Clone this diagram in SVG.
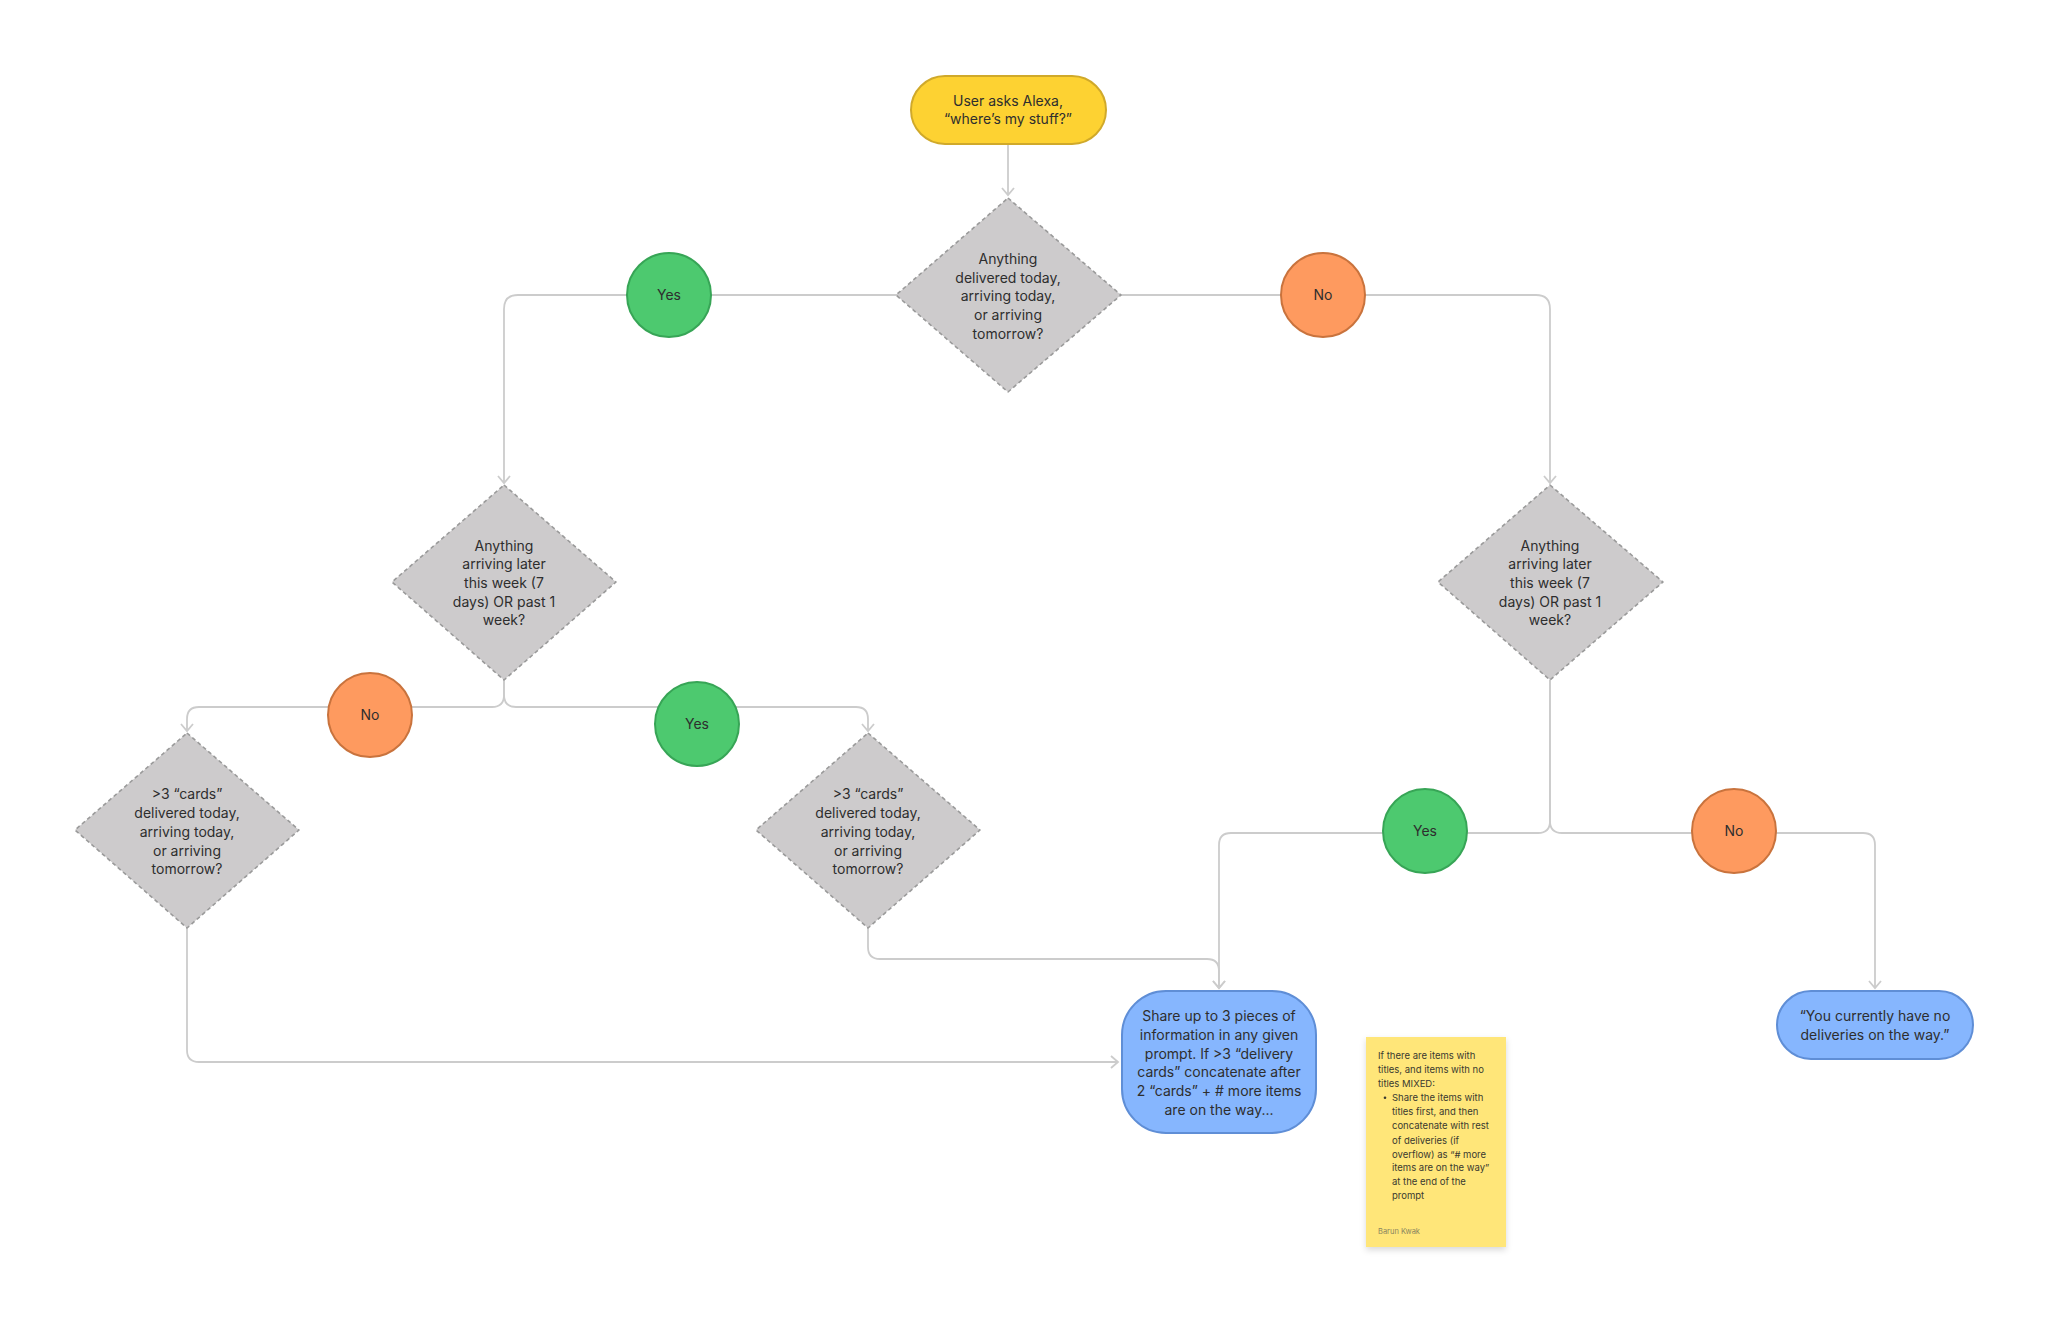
<svg xmlns="http://www.w3.org/2000/svg" width="2048" height="1332" viewBox="0 0 2048 1332">
<defs>
<style>
.t{font-family:Inter,"Noto Sans","Liberation Sans",sans-serif;font-size:14px;fill:#2e2e2e;text-anchor:middle}
.c{fill:none;stroke:#cccccc;stroke-width:1.8}
.dia{fill:#cdcbcc;stroke:#9a9a9a;stroke-width:1.6;stroke-dasharray:4 3;stroke-linejoin:round}
.yes{fill:#4dc96f;stroke:#37a556;stroke-width:2}
.no{fill:#fe9a5f;stroke:#c9733d;stroke-width:2}
.blue{fill:#86b6fe;stroke:#5f8ed6;stroke-width:2}
.st{font-family:Inter,"Noto Sans","Liberation Sans",sans-serif;font-size:9.5px;fill:#3a3a30}
</style>
<marker id="ar" markerWidth="16" markerHeight="16" refX="0" refY="0" viewBox="-10 -8 12 16" orient="auto" markerUnits="userSpaceOnUse">
<path d="M-7,-6 L0,0 L-7,6" fill="none" stroke="#cccccc" stroke-width="1.8"/>
</marker>
<filter id="sh" x="-20%" y="-20%" width="140%" height="140%">
<feDropShadow dx="0" dy="3" stdDeviation="3" flood-color="#000" flood-opacity="0.15"/>
</filter>
</defs>
<rect width="2048" height="1332" fill="#ffffff"/>

<g id="connectors">
<path class="c" d="M1008,145 V195" marker-end="url(#ar)"/>
<path class="c" d="M897,295 H518 Q504,295 504,309 V483" marker-end="url(#ar)"/>
<path class="c" d="M1121,295 H1536 Q1550,295 1550,309 V483" marker-end="url(#ar)"/>
<path class="c" d="M504,680 V695 Q504,707 492,707 H199 Q187,707 187,719 V731" marker-end="url(#ar)"/>
<path class="c" d="M504,680 V695 Q504,707 516,707 H856 Q868,707 868,719 V731" marker-end="url(#ar)"/>
<path class="c" d="M1550,680 V821 Q1550,833 1538,833 H1231 Q1219,833 1219,845 V988" marker-end="url(#ar)"/>
<path class="c" d="M1550,680 V821 Q1550,833 1562,833 H1863 Q1875,833 1875,845 V988" marker-end="url(#ar)"/>
<path class="c" d="M187,928 V1050 Q187,1062 199,1062 H1118" marker-end="url(#ar)"/>
<path class="c" d="M868,928 V947 Q868,959 880,959 H1207 Q1219,959 1219,971 V988" marker-end="url(#ar)"/>
</g>

<g id="start">
<rect x="911" y="76" width="195" height="68" rx="34" fill="#fdd232" stroke="#d0a92a" stroke-width="2"/>
<text class="t"><tspan x="1008" y="105.5">User asks Alexa,</tspan><tspan x="1008" y="124">“where’s my stuff?”</tspan></text>
</g>

<g id="q1">
<polygon class="dia" points="1008,198 1121,295 1008,392 896,295"/>
<text class="t"><tspan x="1008" y="264">Anything</tspan><tspan x="1008" y="282.5">delivered today,</tspan><tspan x="1008" y="301">arriving today,</tspan><tspan x="1008" y="320">or arriving</tspan><tspan x="1008" y="338.5">tomorrow?</tspan></text>
</g>

<g id="yes1">
<circle class="yes" cx="669" cy="295" r="42"/>
<text class="t" x="669" y="300">Yes</text>
</g>
<g id="no1">
<circle class="no" cx="1323" cy="295" r="42"/>
<text class="t" x="1323" y="300">No</text>
</g>

<g id="q2left">
<polygon class="dia" points="504,485 616,582 504,680 392,582"/>
<text class="t"><tspan x="504" y="550.5">Anything</tspan><tspan x="504" y="569">arriving later</tspan><tspan x="504" y="587.5">this week (7</tspan><tspan x="504" y="606.5">days) OR past 1</tspan><tspan x="504" y="625">week?</tspan></text>
</g>
<g id="q2right">
<polygon class="dia" points="1550,485 1663,582 1550,680 1438,582"/>
<text class="t"><tspan x="1550" y="550.5">Anything</tspan><tspan x="1550" y="569">arriving later</tspan><tspan x="1550" y="587.5">this week (7</tspan><tspan x="1550" y="606.5">days) OR past 1</tspan><tspan x="1550" y="625">week?</tspan></text>
</g>

<g id="no2">
<circle class="no" cx="370" cy="715" r="42"/>
<text class="t" x="370" y="720">No</text>
</g>
<g id="yes2">
<circle class="yes" cx="697" cy="724" r="42"/>
<text class="t" x="697" y="729">Yes</text>
</g>

<g id="q3left">
<polygon class="dia" points="187,733 299,830 187,928 75,830"/>
<text class="t"><tspan x="187" y="799">&gt;3 “cards”</tspan><tspan x="187" y="818">delivered today,</tspan><tspan x="187" y="837">arriving today,</tspan><tspan x="187" y="855.5">or arriving</tspan><tspan x="187" y="874">tomorrow?</tspan></text>
</g>
<g id="q3right">
<polygon class="dia" points="868,733 980,830 868,928 756,830"/>
<text class="t"><tspan x="868" y="799">&gt;3 “cards”</tspan><tspan x="868" y="818">delivered today,</tspan><tspan x="868" y="837">arriving today,</tspan><tspan x="868" y="855.5">or arriving</tspan><tspan x="868" y="874">tomorrow?</tspan></text>
</g>

<g id="yes3">
<circle class="yes" cx="1425" cy="831" r="42"/>
<text class="t" x="1425" y="836">Yes</text>
</g>
<g id="no3">
<circle class="no" cx="1734" cy="831" r="42"/>
<text class="t" x="1734" y="836">No</text>
</g>

<g id="share">
<rect class="blue" x="1122" y="991" width="194" height="142" rx="44"/>
<text class="t"><tspan x="1219" y="1021">Share up to 3 pieces of</tspan><tspan x="1219" y="1040">information in any given</tspan><tspan x="1219" y="1058.5">prompt. If &gt;3 “delivery</tspan><tspan x="1219" y="1077">cards” concatenate after</tspan><tspan x="1219" y="1096">2 “cards” + # more items</tspan><tspan x="1219" y="1114.5">are on the way...</tspan></text>
</g>

<g id="none">
<rect class="blue" x="1777" y="991" width="196" height="68" rx="34"/>
<text class="t"><tspan x="1875" y="1021">“You currently have no</tspan><tspan x="1875" y="1040">deliveries on the way.”</tspan></text>
</g>

<g id="sticky">
<rect x="1366" y="1037" width="140" height="210" fill="#ffe679" filter="url(#sh)"/>
<text class="st"><tspan x="1378" y="1058.5">If there are items with</tspan><tspan x="1378" y="1072.7">titles, and items with no</tspan><tspan x="1378" y="1086.8">titles MIXED:</tspan><tspan x="1392" y="1101">Share the items with</tspan><tspan x="1392" y="1115.2">titles first, and then</tspan><tspan x="1392" y="1129.3">concatenate with rest</tspan><tspan x="1392" y="1143.5">of deliveries (if</tspan><tspan x="1392" y="1157.6">overflow) as “# more</tspan><tspan x="1392" y="1171.2">items are on the way”</tspan><tspan x="1392" y="1185.2">at the end of the</tspan><tspan x="1392" y="1199.2">prompt</tspan></text>
<circle cx="1385" cy="1097.7" r="1.3" fill="#3a3a30"/>
<text class="st" x="1378" y="1233.5" style="font-size:7.5px;fill:#8a8560">Barun Kwak</text>
</g>
</svg>
